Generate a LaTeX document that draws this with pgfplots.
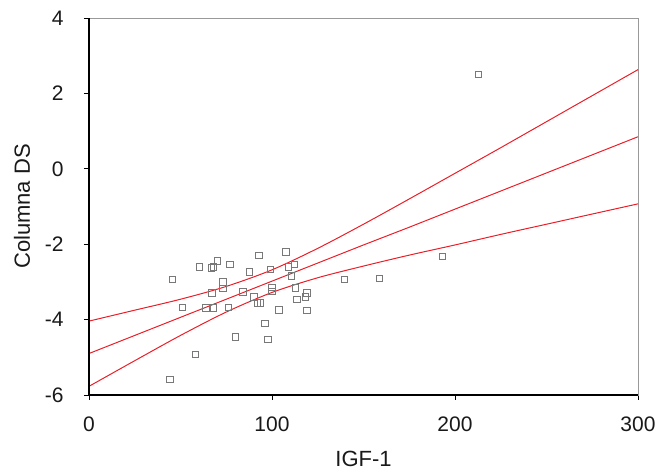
\documentclass[border=0pt]{standalone}
\usepackage{pgfplots}
\pgfplotsset{compat=1.18}
\usepackage{fontspec}
\setmainfont{Liberation Sans}
\definecolor{fitred}{RGB}{235,30,40}
\definecolor{markgray}{RGB}{120,120,120}

\pgfplotstableread{
x y
45.7 -2.93
51.0 -3.67
60.3 -2.60
67.0 -2.63
67.9 -2.60
70.1 -2.44
77.0 -2.53
67.2 -3.29
73.2 -3.00
73.2 -3.17
63.9 -3.69
67.9 -3.69
76.3 -3.67
58.1 -4.93
44.3 -5.59
79.9 -4.46
84.0 -3.27
87.6 -2.73
92.9 -2.29
90.2 -3.40
92.0 -3.56
93.8 -3.56
96.2 -4.10
97.7 -4.53
99.1 -2.67
100.0 -3.15
100.0 -3.25
103.8 -3.74
107.5 -2.20
109.1 -2.60
112.2 -2.53
110.5 -2.84
112.7 -3.16
113.7 -3.47
118.2 -3.40
119.1 -3.29
119.0 -3.76
139.5 -2.93
158.6 -2.90
193.1 -2.33
212.9 2.51
}\scatterdata

% fitted line and its confidence band
\pgfplotstableread{
x fit upper lower
0   -4.90 -4.04 -5.77
25  -4.42 -3.75 -5.09
50  -3.94 -3.46 -4.42
75  -3.46 -3.12 -3.80
100 -2.98 -2.68 -3.28
125 -2.50 -2.11 -2.89
150 -2.02 -1.47 -2.58
175 -1.55 -0.80 -2.29
200 -1.07 -0.12 -2.02
225 -0.59  0.56 -1.74
250 -0.11  1.25 -1.47
275  0.37  1.94 -1.20
300  0.85  2.63 -0.93
}\fitdata

\begin{document}
\begin{tikzpicture}
\begin{axis}[name=ax,
  scale only axis, width=549pt, height=377pt,
  xmin=0, xmax=300, ymin=-6, ymax=4,
  xtick={0,100,200,300}, xticklabels={0,100,200,300},
  ytick={-6,-4,-2,0,2,4}, yticklabels={-6,-4,-2,0,2,4},
  xtick pos=bottom, ytick pos=left,
  tick align=outside, major tick length=5pt,
  tick style={black, line width=0.8pt},
  axis line style={gray!80, line width=0.6pt},
  tick label style={font=\fontsize{21}{24}\selectfont, text=black!90},
  xticklabel shift=13pt, yticklabel shift=17pt,
  label style={font=\fontsize{22}{26}\selectfont, text=black!90},
  xlabel={IGF-1}, ylabel={Columna DS},
  xlabel style={at={(axis description cs:0.5,-0.17)}, anchor=center},
  ylabel style={at={(axis description cs:-0.122,0.5)}, anchor=center},
  clip=false,
]
  \addplot[fitred, line width=1pt] table[x=x, y=fit] {\fitdata};
  \addplot[fitred, line width=1pt, smooth] table[x=x, y=upper] {\fitdata};
  \addplot[fitred, line width=1pt, smooth] table[x=x, y=lower] {\fitdata};
  \addplot[only marks, mark=square, mark size=3.2pt,
    mark options={markgray, line width=0.8pt, fill=white}] table[x=x, y=y] {\scatterdata};
  \draw[black, line width=1.4pt] (rel axis cs:0,1) -- (rel axis cs:0,0) -- (rel axis cs:1,0);
\end{axis}
\path ([shift={(-89pt,-80pt)}]ax.south west) rectangle ([shift={(28pt,18pt)}]ax.north east);
\end{tikzpicture}
\end{document}
